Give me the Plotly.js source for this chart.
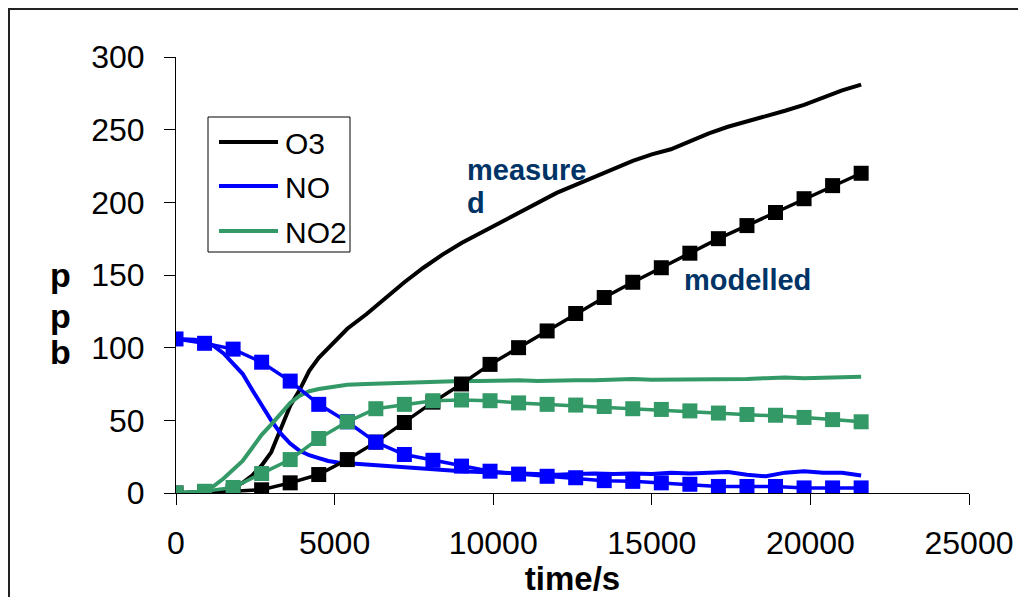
<!DOCTYPE html>
<html>
<head>
<meta charset="utf-8">
<script src="https://cdn.plot.ly/plotly-3.0.1.min.js"></script>
<style>
html,body{margin:0;padding:0;background:#fff;}
#chart{width:1018px;height:597px;}
</style>
</head>
<body>
<div id="chart"></div>
<script>
// ---- data ----
const tMeas = [0,300,600,900,1200,1500,1800,2100,2400,2700,3000,3300,3600,3900,4200,4500,4800,5100,5400,6000,6600,7200,7800,8400,9000,9600,10200,10800,11400,12000,12600,13200,13800,14400,15000,15600,16200,16800,17400,18000,18600,19200,19800,20400,21000,21600];
const o3Meas = [0,0,0,0.5,1,2,4,7,12,19,28,44,60,71,84,93,100,107,113,123,134,145,155,164,172,179,186,193,200,206.5,212,217.5,223,228.5,233,236.5,242,247.5,252,255.5,259.5,263,267,272,277,281];
const noMeas = [106,106,105.5,104,101,96,89,82,71,60,50,41,34,29,26,24,22,21,20.5,19.5,19,18,17,16,15,14.5,14,14,13,12.5,13,13.5,13,13.5,13,14,13.5,14,14.5,12.5,11.5,14,15,14,14,12];
const no2Meas = [0,0,0.5,1.5,5,10,16,22,31,40,47,55,62,67,70,71.5,72.5,73.5,74.5,75,75.5,76,76.5,77,77,77,77.5,77.5,77,77.5,77.5,77.5,78,78.5,78,78,78.5,78.5,78,78.5,79,79.5,79,79.5,79.5,80];

const tModel = [0,900,1800,2700,3600,4500,5400,6300,7200,8100,9000,9900,10800,11700,12600,13500,14400,15300,16200,17100,18000,18900,19800,20700,21600];
const o3Model = [0,0.5,1.2,2.2,7,12.7,23,35,48.5,62.5,75,88.5,100,111.5,123.5,134.5,145,155,165,175,184,193,202.5,211.5,220];
const noModel = [106,103,99,90,77,61,49,35,26.5,22.5,18.5,15,13,11.5,10.5,8.5,8,7,6,4.5,4.5,4.5,3.5,3.5,3.5];
const no2Model = [0,1.2,3.8,13.4,23,37.5,49,58,61,63.5,64,63.5,62,61,60.5,59.5,58,57.5,56.5,55,54,53.5,52,50.5,49];

const seriesNames = ["O3","NO","NO2"];
const xTickVals = [0,5000,10000,15000,20000,25000];
const yTickVals = [0,50,100,150,200,250,300];
const xTitle = "time/s";
const yTitleLetters = ["p","p","b"];
const noteMeasured = ["measure","d"];
const noteModelled = "modelled";

// ---- styles ----
const colors = {O3:"#000000", NO:"#0000FF", NO2:"#339966"};
const tickFont = {family:"Liberation Sans, Arial, sans-serif", size:32, color:"#000"};

const meas = {O3:o3Meas, NO:noMeas, NO2:no2Meas};
const model = {O3:o3Model, NO:noModel, NO2:no2Model};

const traces = [];
seriesNames.forEach(n => traces.push({
  x:tMeas, y:meas[n], name:n, type:"scatter", mode:"lines",
  line:{color:colors[n], width:4}, showlegend:false, hoverinfo:"skip"
}));
seriesNames.forEach(n => traces.push({
  x:tModel, y:model[n], name:n+" modelled", type:"scatter", mode:"lines+markers",
  line:{color:colors[n], width:3.5}, marker:{symbol:"square", size:15, color:colors[n]},
  showlegend:false, hoverinfo:"skip"
}));

// pixel helpers (plot area: x 176..969, y 57..493)
const L=176, R=969, T=57, B=493;
const px = v => (v-L)/(R-L);
const py = v => (B-v)/(B-T);

const shapes = [
  // outer frame
  {type:"rect", xref:"paper", yref:"paper", x0:px(9), x1:px(1030), y0:py(620), y1:py(9),
   line:{color:"#222", width:2}, fillcolor:"rgba(0,0,0,0)", layer:"below"},
  // legend box
  {type:"rect", xref:"paper", yref:"paper", x0:px(208), x1:px(350), y0:py(252), y1:py(117),
   line:{color:"#000", width:1}, fillcolor:"#fff", layer:"above"}
];
const legendRows = [142,186,231];
const annotations = [];
seriesNames.forEach((n,i) => {
  shapes.push({type:"line", xref:"paper", yref:"paper", x0:px(219), x1:px(278),
    y0:py(legendRows[i]), y1:py(legendRows[i]), line:{color:colors[n], width:4}, layer:"above"});
  annotations.push({xref:"paper", yref:"paper", x:px(283), y:py(legendRows[i]+1), xanchor:"left", yanchor:"middle",
    text:n, showarrow:false, font:{family:"Liberation Sans, Arial, sans-serif", size:30, color:"#000"}});
});
const noteFont = {family:"Liberation Sans, Arial, sans-serif", size:29, color:"#003366"};
annotations.push({xref:"paper", yref:"paper", x:px(465), y:py(170), xanchor:"left", yanchor:"middle",
  text:"<b>"+noteMeasured[0]+"</b>", showarrow:false, font:noteFont});
annotations.push({xref:"paper", yref:"paper", x:px(465), y:py(203), xanchor:"left", yanchor:"middle",
  text:"<b>"+noteMeasured[1]+"</b>", showarrow:false, font:noteFont});
annotations.push({xref:"paper", yref:"paper", x:px(682), y:py(280), xanchor:"left", yanchor:"middle",
  text:"<b>"+noteModelled+"</b>", showarrow:false, font:noteFont});
const yLetterRows = [275,316,352];
yTitleLetters.forEach((c,i) => annotations.push({xref:"paper", yref:"paper", x:px(61), y:py(yLetterRows[i]),
  xanchor:"center", yanchor:"middle", text:"<b>"+c+"</b>", showarrow:false,
  font:{family:"Liberation Sans, Arial, sans-serif", size:34, color:"#000"}}));

const layout = {
  width:1018, height:597,
  margin:{l:L, r:1018-R, t:T, b:597-B, pad:0},
  paper_bgcolor:"#fff", plot_bgcolor:"#fff",
  showlegend:false,
  xaxis:{range:[0,25000], tickvals:xTickVals, ticktext:xTickVals.map(String),
    showline:true, linecolor:"#000", linewidth:1, ticks:"outside", ticklen:11, tickcolor:"#000", tickwidth:1,
    showgrid:false, zeroline:false, tickfont:tickFont, ticklabelstandoff:11,
    title:{text:"<b>"+xTitle+"</b>", font:{family:"Liberation Sans, Arial, sans-serif", size:33, color:"#000"}, standoff:0}},
  yaxis:{range:[0,300], tickvals:yTickVals, ticktext:yTickVals.map(String),
    showline:true, linecolor:"#000", linewidth:1, ticks:"outside", ticklen:11, tickcolor:"#000", tickwidth:1,
    showgrid:false, zeroline:false, tickfont:tickFont, ticklabelstandoff:13},
  shapes:shapes,
  annotations:annotations
};

Plotly.newPlot("chart", traces, layout, {staticPlot:true, displayModeBar:false});
</script>
</body>
</html>
